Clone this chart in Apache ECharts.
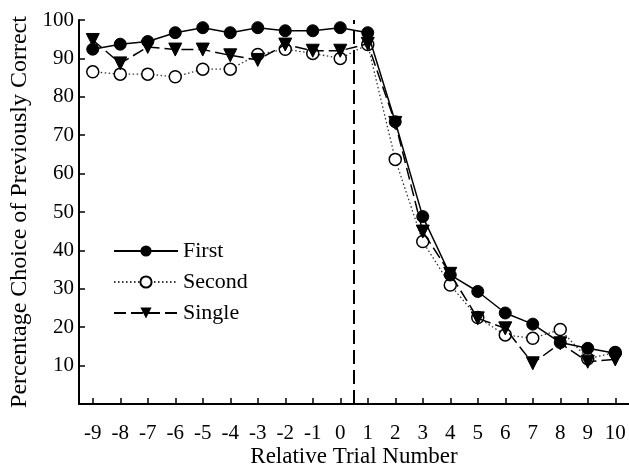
<!DOCTYPE html>
<html>
<head>
<meta charset="utf-8">
<script src="https://cdn.jsdelivr.net/npm/echarts@6/dist/echarts.min.js"></script>
<style>html,body{margin:0;padding:0;background:#fff}#c{width:629px;height:467px}</style>
</head>
<body>
<div id="c"></div>
<script>
const trials = [-9,-8,-7,-6,-5,-4,-3,-2,-1,0,1,2,3,4,5,6,7,8,9,10];
const firstVals  = [92.4,93.7,94.4,96.7,98.0,96.7,98.0,97.2,97.2,98.0,96.7,73.5,48.8,33.6,29.3,23.7,20.8,16.0,14.5,13.2];
const secondVals = [86.5,85.9,85.9,85.2,87.2,87.2,91.0,92.4,91.3,90.0,93.6,63.7,42.3,31.0,22.5,18.0,17.1,19.4,11.8,13.4];
const singleVals = [94.8,88.7,93.0,92.3,92.3,90.8,89.6,93.6,92.0,92.0,93.8,73.2,44.9,33.9,22.3,19.7,10.6,15.8,11.0,11.6];
const yTicks = [10,20,30,40,50,60,70,80,90,100];
const dividerAt = 0.5;

const font = 'Liberation Serif';
const pair = arr => trials.map((t,i)=>[t,arr[i]]);

const chart = echarts.init(document.getElementById('c'), null, {renderer:'canvas'});
chart.setOption({
  animation:false,
  backgroundColor:'#fff',
  grid:{left:79,right:0,top:20,bottom:63,containLabel:false,outerBoundsMode:'none'},
  legend:{
    orient:'vertical', left:108, top:235, itemWidth:64, itemHeight:14, itemGap:9,
    textStyle:{fontFamily:font,fontSize:22,color:'#000'},
    data:['First','Second','Single']
  },
  xAxis:{
    type:'value', min:-9.5, max:10.5,
    name:'Relative Trial Number', nameLocation:'middle', nameGap:41, nameMoveOverlap:false,
    nameTextStyle:{fontFamily:font,fontSize:23,color:'#000'},
    axisLine:{onZero:false,lineStyle:{color:'#000',width:2}},
    axisTick:{inside:true,length:6,customValues:trials,lineStyle:{color:'#000',width:1.5}},
    axisLabel:{customValues:trials,fontFamily:font,fontSize:21,color:'#000',margin:19},
    splitLine:{show:false}
  },
  yAxis:{
    type:'value', min:0, max:100, interval:10,
    name:'Percentage Choice of Previously Correct', nameLocation:'middle', nameGap:47, nameMoveOverlap:false,
    nameTextStyle:{fontFamily:font,fontSize:24,color:'#000'},
    axisLine:{show:true,onZero:false,lineStyle:{color:'#000',width:2}},
    axisTick:{show:true,inside:true,length:6,customValues:yTicks,lineStyle:{color:'#000',width:1.5}},
    axisLabel:{customValues:yTicks,fontFamily:font,fontSize:21,color:'#000',margin:5},
    splitLine:{show:false}
  },
  series:[
    {name:'First',type:'line',data:pair(firstVals),symbol:'circle',symbolSize:12,
     lineStyle:{color:'#000',width:1.5},itemStyle:{color:'#000',borderColor:'#000'},z:3,
     markLine:{silent:true,symbol:'none',label:{show:false},
       lineStyle:{color:'#000',width:2,type:[14,6]},data:[{xAxis:dividerAt}]}},
    {name:'Second',type:'line',data:pair(secondVals),symbol:'circle',symbolSize:12,
     lineStyle:{color:'#333',width:1.3,type:[1.5,2.5]},itemStyle:{color:'#fff',borderColor:'#000',borderWidth:1.5},z:2},
    {name:'Single',type:'line',data:pair(singleVals),symbol:'triangle',symbolRotate:180,symbolSize:13,
     lineStyle:{color:'#000',width:1.5,type:[12,5]},itemStyle:{color:'#000',borderColor:'#000'},z:4}
  ]
});
</script>
</body>
</html>
